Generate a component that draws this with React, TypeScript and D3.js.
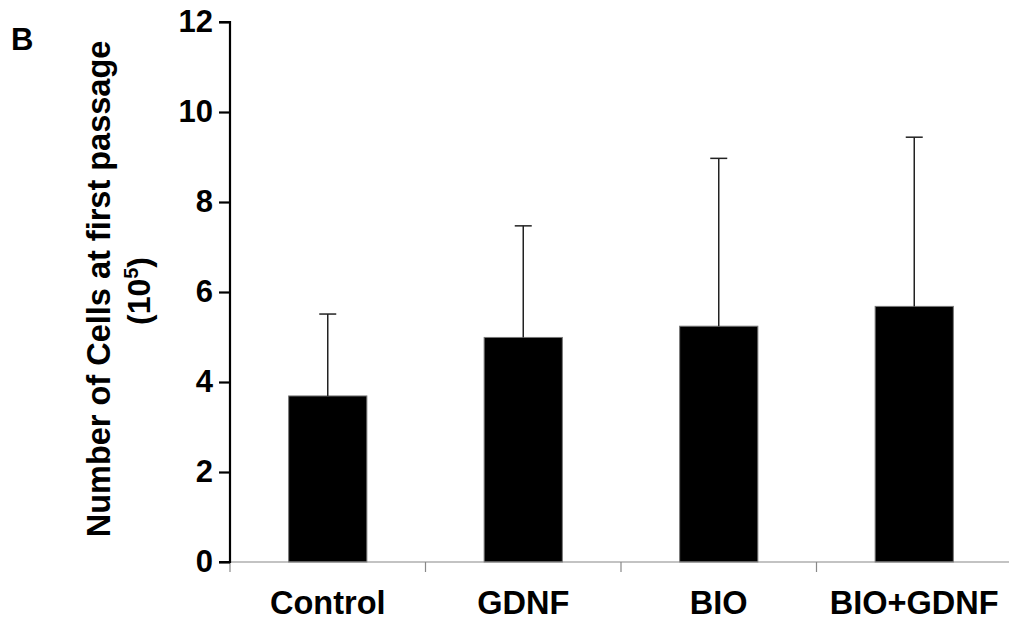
import React, { useRef, useEffect } from "react";
import * as d3 from "d3";

const categories = ["Control", "GDNF", "BIO", "BIO+GDNF"];
const means = [3.69, 4.99, 5.24, 5.68];
const errors = [1.82, 2.48, 3.73, 3.76];
const yTicks = [0, 2, 4, 6, 8, 10, 12];

const App = () => {
  const chartRef = useRef<SVGSVGElement | null>(null);

  useEffect(() => {
    const width = 1009;
    const height = 622;
    const margin = { top: 22, left: 230, bottom: 60 };
    const plotRight = 1012;
    const font = "Liberation Sans, Arial, Helvetica, sans-serif";

    const svg = d3.select(chartRef.current);
    svg.selectAll("*").remove();
    svg.attr("width", width).attr("height", height);

    const x = d3
      .scaleBand()
      .domain(categories)
      .range([margin.left, plotRight])
      .padding(0);

    const y = d3
      .scaleLinear()
      .domain([0, 12])
      .range([height - margin.bottom, margin.top]);

    const barW = x.bandwidth() * 0.4;

    // bars
    svg
      .append("g")
      .selectAll("rect")
      .data(categories)
      .join("rect")
      .attr("x", (d) => x(d)! + (x.bandwidth() - barW) / 2)
      .attr("y", (d, i) => y(means[i]))
      .attr("width", barW)
      .attr("height", (d, i) => y(0) - y(means[i]))
      .attr("fill", "#000")
      .attr("stroke", "#777")
      .attr("stroke-width", 1);

    // error bars (upper only)
    const eb = svg
      .append("g")
      .attr("stroke", "#222")
      .attr("stroke-width", 1.5);
    categories.forEach((c, i) => {
      const cx = x(c)! + x.bandwidth() / 2;
      const top = y(means[i] + errors[i]);
      eb.append("line")
        .attr("x1", cx)
        .attr("x2", cx)
        .attr("y1", y(means[i]))
        .attr("y2", top);
      eb.append("line")
        .attr("x1", cx - 8.5)
        .attr("x2", cx + 8.5)
        .attr("y1", top)
        .attr("y2", top);
    });

    // x axis
    const xAxis = svg.append("g");
    xAxis
      .append("line")
      .attr("x1", margin.left)
      .attr("x2", plotRight)
      .attr("y1", y(0))
      .attr("y2", y(0))
      .attr("stroke", "#888")
      .attr("stroke-width", 1.2);
    xAxis
      .selectAll("line.tick")
      .data([...categories.map((c) => x(c)!), plotRight])
      .join("line")
      .attr("class", "tick")
      .attr("x1", (d) => d)
      .attr("x2", (d) => d)
      .attr("y1", y(0))
      .attr("y2", y(0) + 10)
      .attr("stroke", "#888")
      .attr("stroke-width", 1.2);
    xAxis
      .selectAll("text")
      .data(categories)
      .join("text")
      .attr("x", (d) => x(d)! + x.bandwidth() / 2)
      .attr("y", 614)
      .attr("text-anchor", "middle")
      .attr("font-family", font)
      .attr("font-weight", "bold")
      .attr("font-size", "32.5px")
      .attr("fill", "#000")
      .text((d) => d);

    // y axis
    const yAxis = svg
      .append("g")
      .attr("transform", `translate(${margin.left},0)`)
      .call(
        d3
          .axisLeft(y)
          .tickValues(yTicks)
          .tickSize(11)
          .tickPadding(6)
          .tickFormat(d3.format("d"))
      );
    yAxis
      .select(".domain")
      .attr("stroke", "#000")
      .attr("stroke-width", 2.2)
      .attr("d", `M-11,${y(12)}H0V${y(0)}H-11`);
    yAxis.selectAll(".tick line").attr("stroke", "#000").attr("stroke-width", 2.2);
    yAxis
      .selectAll(".tick text")
      .attr("font-family", font)
      .attr("font-weight", "bold")
      .attr("font-size", "31px")
      .attr("fill", "#000");

    // y title
    const midY = (y(0) + y(12)) / 2 - 3;
    svg
      .append("text")
      .attr("transform", `translate(110,${midY}) rotate(-90)`)
      .attr("text-anchor", "middle")
      .attr("font-family", font)
      .attr("font-weight", "bold")
      .attr("font-size", "32.5px")
      .attr("fill", "#000")
      .text("Number of Cells at first passage");

    const sub = svg
      .append("text")
      .attr("transform", `translate(150,${midY + 2}) rotate(-90)`)
      .attr("text-anchor", "middle")
      .attr("font-family", font)
      .attr("font-weight", "bold")
      .attr("font-size", "32px")
      .attr("fill", "#000");
    sub.append("tspan").text("(10");
    sub.append("tspan").attr("font-size", "20px").attr("dy", -12).text("5");
    sub.append("tspan").attr("dy", 12).text(")");

    // panel letter
    svg
      .append("text")
      .attr("x", 11)
      .attr("y", 50)
      .attr("font-family", font)
      .attr("font-weight", "bold")
      .attr("font-size", "31px")
      .attr("fill", "#000")
      .text("B");
  }, []);

  return (
    <div style={{ position: "absolute", left: 0, top: 0, background: "#fff" }}>
      <svg ref={chartRef} style={{ display: "block" }}></svg>
    </div>
  );
};

export default App;
